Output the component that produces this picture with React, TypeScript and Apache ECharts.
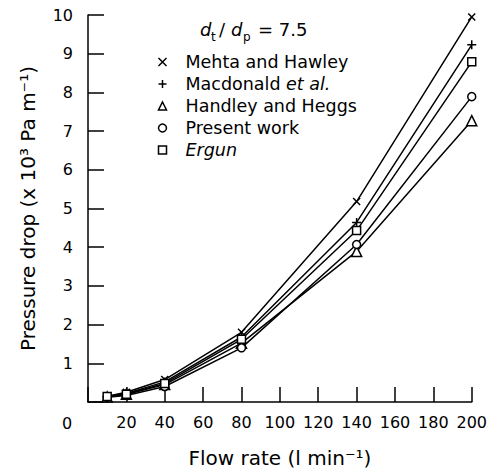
import React, { useEffect, useRef } from "react";
import * as echarts from "echarts";

const flowRates = [10, 20, 40, 80, 140, 200];
const mehtaHawley = [0.15, 0.25, 0.58, 1.8, 5.18, 9.95];
const macdonald = [0.14, 0.22, 0.52, 1.68, 4.64, 9.23];
const handleyHeggs = [0.13, 0.2, 0.45, 1.52, 3.89, 7.27];
const presentWork = [0.12, 0.17, 0.4, 1.4, 4.07, 7.89];
const ergun = [0.14, 0.2, 0.48, 1.62, 4.43, 8.79];

const seriesNames = [
  "Mehta and Hawley",
  "Macdonald et al.",
  "Handley and Heggs",
  "Present work",
  "Ergun",
];
const seriesValues = [mehtaHawley, macdonald, handleyHeggs, presentWork, ergun];

const CROSS = "path://M0,0L10,10M10,0L0,10";
const PLUS = "path://M5,0L5,10M0,5L10,5";
const seriesSymbols = [CROSS, PLUS, "triangle", "circle", "rect"];
const seriesSymbolSizes = [7, 9, 10, 8, 8];

const FONT = "DejaVu Sans";

export default function App() {
  const ref = useRef<HTMLDivElement>(null);

  useEffect(() => {
    if (!ref.current) return;
    const chart = echarts.init(ref.current, null, { renderer: "svg" });

    const series = seriesNames.map((name, si) => ({
      name,
      type: "line",
      data: flowRates.map((x, i) => [x, seriesValues[si][i]]),
      symbol: seriesSymbols[si],
      symbolSize: seriesSymbolSizes[si],
      showAllSymbol: true,
      lineStyle: { color: "#000", width: 1.5 },
      itemStyle: {
        color: si < 2 ? "none" : "#fff",
        borderColor: "#000",
        borderWidth: 1.5,
      },
      emphasis: { disabled: true },
      z: 2,
    }));

    const option = {
      animation: false,
      grid: { left: 88, right: 18, top: 15, bottom: 70 },
      xAxis: {
        type: "value",
        min: 0,
        max: 200,
        interval: 20,
        name: "Flow rate (l min\u207B\u00B9)",
        nameLocation: "middle",
        nameGap: 46,
        nameTextStyle: { fontFamily: FONT, fontSize: 20, color: "#000" },
        axisLine: { show: true, lineStyle: { color: "#000", width: 1.5 } },
        axisTick: {
          show: true,
          inside: true,
          length: 15,
          lineStyle: { color: "#000", width: 1.5 },
        },
        axisLabel: {
          fontFamily: FONT,
          fontSize: 16,
          color: "#000",
          margin: 12,
          formatter: (v: number) => (v === 0 ? "" : String(v)),
        },
        splitLine: { show: false },
      },
      yAxis: {
        type: "value",
        min: 0,
        max: 10,
        interval: 1,
        name: "Pressure drop (x 10\u00B3 Pa m\u207B\u00B9)",
        nameLocation: "middle",
        nameGap: 50,
        nameTextStyle: { fontFamily: FONT, fontSize: 20, color: "#000" },
        axisLine: { show: true, lineStyle: { color: "#000", width: 1.5 } },
        axisTick: {
          show: true,
          inside: true,
          length: 16,
          lineStyle: { color: "#000", width: 1.5 },
        },
        axisLabel: {
          fontFamily: FONT,
          fontSize: 16,
          color: "#000",
          margin: 15,
          formatter: (v: number) => (v === 0 ? "" : String(v)),
        },
        splitLine: { show: false },
      },
      legend: {
        orient: "vertical",
        left: 156,
        top: 52,
        padding: 0,
        itemWidth: 8,
        itemHeight: 8,
        itemGap: 2,
        selectedMode: false,
        symbolKeepAspect: true,
        data: seriesNames.map((name, si) => ({
          name,
          icon: seriesSymbols[si],
          itemStyle: {
            color: si < 2 ? "none" : "#fff",
            borderColor: "#000",
            borderWidth: 1.5,
          },
        })),
        formatter: (name: string) => {
          if (name === "Macdonald et al.") return "Macdonald {i|et al.}";
          if (name === "Ergun") return "{i|Ergun}";
          return name;
        },
        textStyle: {
          fontFamily: FONT,
          fontSize: 17.5,
          color: "#000",
          lineHeight: 20,
          padding: [0, 0, 0, 14],
          rich: {
            i: {
              fontFamily: FONT,
              fontSize: 17.5,
              fontStyle: "italic",
              color: "#000",
              lineHeight: 20,
            },
          },
        },
      },
      graphic: [
        {
          type: "text",
          x: 200,
          y: 29,
          style: { text: "d", fontFamily: FONT, fontSize: 18, fontStyle: "italic", fill: "#000", align: "left", verticalAlign: "middle" },
        },
        {
          type: "text",
          x: 211,
          y: 36.5,
          style: { text: "t", fontFamily: FONT, fontSize: 12, fill: "#000", align: "left", verticalAlign: "middle" },
        },
        {
          type: "text",
          x: 219,
          y: 29,
          style: { text: "/", fontFamily: FONT, fontSize: 18, fill: "#000", align: "left", verticalAlign: "middle" },
        },
        {
          type: "text",
          x: 231,
          y: 29,
          style: { text: "d", fontFamily: FONT, fontSize: 18, fontStyle: "italic", fill: "#000", align: "left", verticalAlign: "middle" },
        },
        {
          type: "text",
          x: 243,
          y: 36.5,
          style: { text: "p", fontFamily: FONT, fontSize: 12, fill: "#000", align: "left", verticalAlign: "middle" },
        },
        {
          type: "text",
          x: 258,
          y: 29,
          style: { text: "= 7.5", fontFamily: FONT, fontSize: 18, fill: "#000", align: "left", verticalAlign: "middle" },
        },
        {
          type: "text",
          x: 67,
          y: 423,
          style: { text: "0", fontFamily: FONT, fontSize: 16, fill: "#000", align: "center", verticalAlign: "middle" },
        },
      ],
      series,
    };

    chart.setOption(option as any);
    return () => chart.dispose();
  }, []);

  return (
    <div
      ref={ref}
      style={{ position: "absolute", left: 0, top: 0, width: 490, height: 473, background: "#fff" }}
    />
  );
}
